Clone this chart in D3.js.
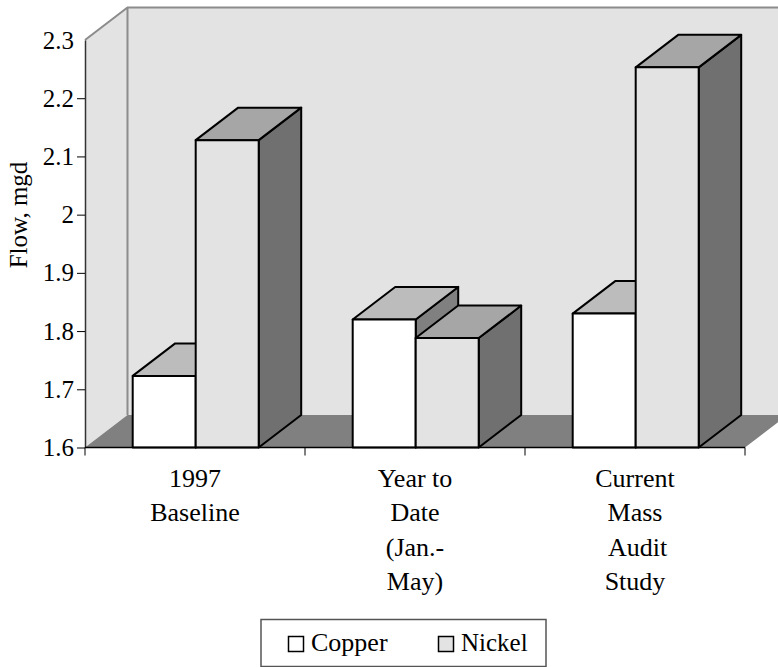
<!DOCTYPE html>
<html>
<head>
  <meta charset="utf-8">
  <title>Flow, mgd</title>
  <script src="https://d3js.org/d3.v7.min.js"></script>
  <style>
    body { margin: 0; background: #fff; }
    svg { display: block; }
    text { font-family: "Liberation Serif", serif; fill: #000; }
  </style>
</head>
<body>
  <div id="chart"></div>
  <script>
    // values
    var categories = ["1997 Baseline", "Year to Date (Jan.-May)", "Current Mass Audit Study"];
    var categoryLines = [["1997", "Baseline"], ["Year to", "Date", "(Jan.-", "May)"], ["Current", "Mass", " Audit", "Study"]];
    var seriesNames = ["Copper", "Nickel"];
    var copper = [1.723, 1.82, 1.83];
    var nickel = [2.128, 1.788, 2.253];
    var yTicks = [1.6, 1.7, 1.8, 1.9, 2, 2.1, 2.2, 2.3];

    var svg = d3.select("#chart").append("svg")
      .attr("width", 778)
      .attr("height", 667);

    // oblique offset of the 3D box
    var depthX = 42.5, depthY = -32.5;
    var plotLeft = 85, plotRight = 745, plotBottom = 447.5, plotTop = 40;
    var fontSize = "25px";

    var x = d3.scaleBand().domain(categories).range([plotLeft, plotRight]);
    var xInner = d3.scaleBand().domain(seriesNames).range([47.7, 173.7]);
    var y = d3.scaleLinear().domain([1.6, 2.3]).range([plotBottom, plotTop]);

    var colors = {
      Copper: {front: "#ffffff", top: "#bcbcbc", side: "#808080"},
      Nickel: {front: "#e3e3e3", top: "#a6a6a6", side: "#707070"}
    };

    function poly(points) {
      return points.map(function(p) { return p.join(","); }).join(" ");
    }

    // back wall, side wall, floor
    svg.append("polygon")
      .attr("points", poly([[plotLeft + depthX, plotTop + depthY], [plotRight + depthX, plotTop + depthY], [plotRight + depthX, plotBottom + depthY], [plotLeft + depthX, plotBottom + depthY]]))
      .attr("fill", "#e3e3e3");
    svg.append("polygon")
      .attr("points", poly([[plotLeft, plotTop], [plotLeft + depthX, plotTop + depthY], [plotLeft + depthX, plotBottom + depthY], [plotLeft, plotBottom]]))
      .attr("fill", "#e3e3e3");
    svg.append("polygon")
      .attr("points", poly([[plotLeft, plotBottom], [plotRight, plotBottom], [plotRight + depthX, plotBottom + depthY], [plotLeft + depthX, plotBottom + depthY]]))
      .attr("fill", "#808080");
    svg.append("path")
      .attr("d", "M" + plotLeft + "," + plotTop + "L" + (plotLeft + depthX) + "," + (plotTop + depthY) + "H" + (plotRight + depthX) + "M" + (plotLeft + depthX) + "," + (plotTop + depthY) + "V" + (plotBottom + depthY))
      .attr("fill", "none")
      .attr("stroke", "#8c8c8c")
      .attr("stroke-width", 2);

    // bars, copper first so nickel covers it
    categories.forEach(function(cat, i) {
      [copper[i], nickel[i]].forEach(function(v, j) {
        var name = seriesNames[j];
        var x0 = x(cat) + xInner(name);
        var x1 = x0 + xInner.bandwidth();
        var yv = y(v);
        var g = svg.append("g")
          .attr("stroke", "#000")
          .attr("stroke-width", 2)
          .attr("stroke-linejoin", "round");
        g.append("polygon")
          .attr("points", poly([[x1, yv], [x1 + depthX, yv + depthY], [x1 + depthX, plotBottom + depthY], [x1, plotBottom]]))
          .attr("fill", colors[name].side);
        g.append("polygon")
          .attr("points", poly([[x0, yv], [x1, yv], [x1 + depthX, yv + depthY], [x0 + depthX, yv + depthY]]))
          .attr("fill", colors[name].top);
        g.append("rect")
          .attr("x", x0)
          .attr("y", yv)
          .attr("width", x1 - x0)
          .attr("height", plotBottom - yv)
          .attr("fill", colors[name].front);
      });
    });

    // y axis
    var yAxis = svg.append("g")
      .attr("transform", "translate(" + plotLeft + ",0)")
      .call(d3.axisLeft(y).tickValues(yTicks).tickFormat(d3.format("~g")).tickSize(8).tickPadding(3).tickSizeOuter(0));
    yAxis.select(".domain").attr("stroke", "#333").attr("stroke-width", 1.5);
    yAxis.selectAll("text").style("font-size", fontSize);
    yAxis.selectAll(".tick").filter(function(d) { return d === 2.3; }).select("line").remove();

    // x axis: ticks sit on the band edges
    var xAxis = svg.append("g").attr("transform", "translate(0," + plotBottom + ")");
    xAxis.append("line")
      .attr("x1", plotLeft).attr("x2", plotRight)
      .attr("stroke", "#000").attr("stroke-width", 1.5);
    categories.concat([null]).forEach(function(cat) {
      var px = cat ? x(cat) : plotRight;
      xAxis.append("line")
        .attr("x1", px).attr("x2", px)
        .attr("y1", 0).attr("y2", 8)
        .attr("stroke", "#000");
    });
    categories.forEach(function(cat, i) {
      var label = xAxis.append("text")
        .attr("text-anchor", "middle")
        .attr("xml:space", "preserve")
        .style("font-size", "26px");
      categoryLines[i].forEach(function(line, k) {
        label.append("tspan")
          .attr("x", x(cat) + x.bandwidth() / 2)
          .attr("y", 39.5 + k * 34.3)
          .text(line);
      });
    });

    // y axis title
    svg.append("text")
      .attr("transform", "translate(27,215) rotate(-90)")
      .attr("text-anchor", "middle")
      .style("font-size", fontSize)
      .text("Flow, mgd");

    // legend
    var legend = svg.append("g");
    legend.append("rect")
      .attr("x", 261).attr("y", 619.5)
      .attr("width", 285).attr("height", 47)
      .attr("fill", "#fff")
      .attr("stroke", "#555")
      .attr("stroke-width", 1.5);
    var legendX = d3.scalePoint().domain(seriesNames).range([288.5, 438.5]);
    var legendFont = d3.scaleOrdinal().domain(seriesNames).range(["26px", "25px"]);
    seriesNames.forEach(function(name) {
      legend.append("rect")
        .attr("x", legendX(name)).attr("y", 636.5)
        .attr("width", 15).attr("height", 15)
        .attr("fill", colors[name].front)
        .attr("stroke", "#000")
        .attr("stroke-width", 1.5);
      legend.append("text")
        .attr("x", legendX(name) + 22.5)
        .attr("y", 651)
        .style("font-size", legendFont(name))
        .text(name);
    });
  </script>
</body>
</html>
